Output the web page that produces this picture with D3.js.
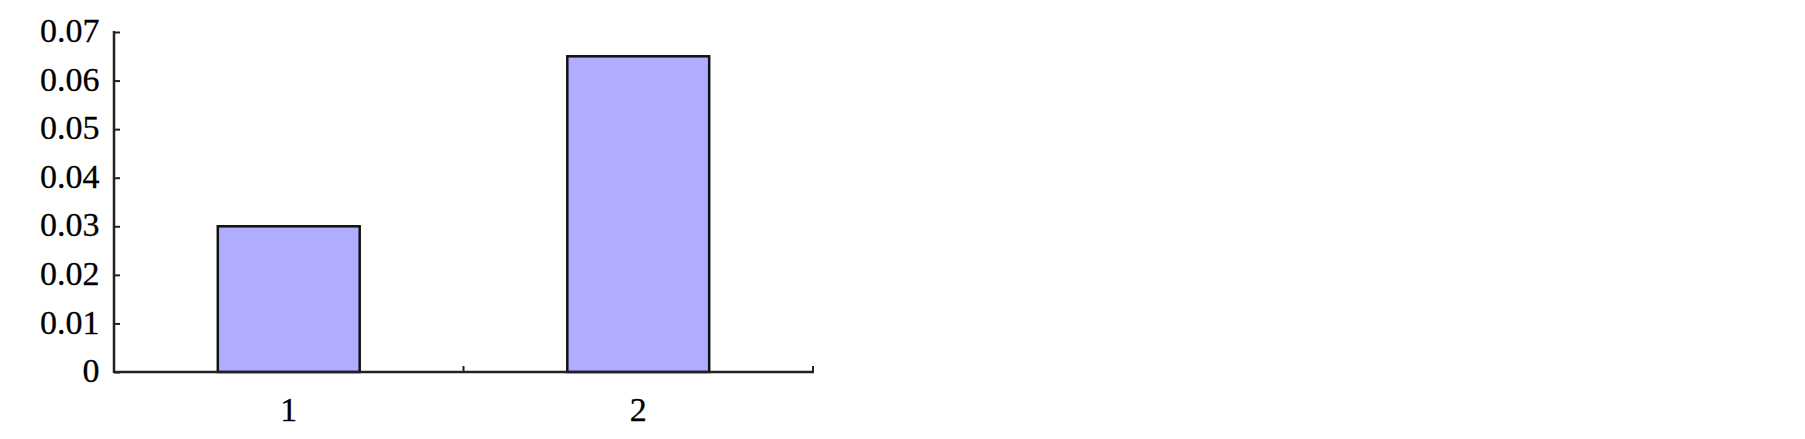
<!DOCTYPE html>
<html>
<head>
<meta charset="utf-8">
<script src="https://cdn.jsdelivr.net/npm/d3@7"></script>
<style>
  html, body { margin: 0; padding: 0; background: #fff; }
  svg { display: block; }
  text { font-family: "Liberation Serif", "Times New Roman", serif; fill: #000; stroke: #000; stroke-width: 0.3px; }
</style>
</head>
<body>
<svg id="chart"></svg>
<script>
const width = 1805
const height = 439

// data
const categories = ['1', '2']
const values = [0.030, 0.065]
const yTicks = [0, 0.01, 0.02, 0.03, 0.04, 0.05, 0.06, 0.07]

const margin = { left: 114, right: 992, top: 32, bottom: 67 }
const x0 = margin.left
const x1 = width - margin.right
const yBottom = height - margin.bottom

const svg = d3.select('#chart').attr('width', width).attr('height', height)

const x = d3.scaleBand()
  .domain(categories)
  .range([x0, x1])
  .paddingInner(0.594)
  .paddingOuter(0.297)

const y = d3.scaleLinear()
  .domain([0, 0.07])
  .range([yBottom, margin.top])

// bars
svg.append('g')
  .selectAll('rect')
  .data(values)
  .enter().append('rect')
  .attr('x', (d, i) => x(categories[i]))
  .attr('y', d => y(d))
  .attr('width', x.bandwidth())
  .attr('height', d => yBottom - y(d))
  .attr('fill', '#b0acff')
  .attr('stroke', '#111')
  .attr('stroke-width', 2.5)

// y axis, ticks point inward
const yAxis = svg.append('g')
  .attr('transform', `translate(${x0},0)`)
  .call(d3.axisRight(y).tickValues(yTicks).tickSize(6).tickFormat(''))
yAxis.select('.domain').remove()
yAxis.selectAll('line').attr('stroke', '#222').attr('stroke-width', 2)
yAxis.append('line')
  .attr('x1', 0).attr('x2', 0)
  .attr('y1', y(0.07) - 1).attr('y2', yBottom + 1)
  .attr('stroke', '#222').attr('stroke-width', 2.5)

svg.append('g')
  .selectAll('text')
  .data(yTicks)
  .enter().append('text')
  .attr('x', x0 - 14.5)
  .attr('y', d => y(d))
  .attr('dy', '0.3em')
  .attr('text-anchor', 'end')
  .attr('font-size', 34)
  .text(d => d === 0 ? '0' : d3.format('.2f')(d))

// x axis: baseline, separator ticks between categories
svg.append('line')
  .attr('x1', x0).attr('x2', x1 + 1)
  .attr('y1', yBottom).attr('y2', yBottom)
  .attr('stroke', '#222').attr('stroke-width', 2.5)

const boundaries = categories.map(c => x(c) - x.step() * x.paddingInner() / 2 + x.step())
svg.append('g')
  .selectAll('line')
  .data(boundaries)
  .enter().append('line')
  .attr('x1', d => d).attr('x2', d => d)
  .attr('y1', yBottom).attr('y2', yBottom - 6)
  .attr('stroke', '#222').attr('stroke-width', 2)

svg.append('g')
  .selectAll('text')
  .data(categories)
  .enter().append('text')
  .attr('x', d => x(d) + x.bandwidth() / 2)
  .attr('y', yBottom + 49)
  .attr('text-anchor', 'middle')
  .attr('font-size', 34)
  .text(d => d)
</script>
</body>
</html>
